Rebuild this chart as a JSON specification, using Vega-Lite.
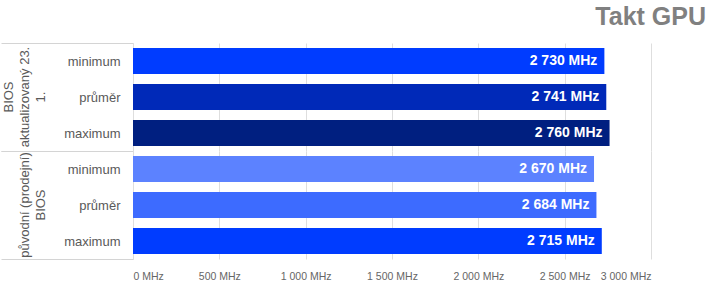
{
  "$schema": "https://vega.github.io/schema/vega-lite/v6.json",
  "padding": {"left": 0, "top": 5, "right": 5, "bottom": 3},
  "data": {
    "values": [
      {"skupina": "BIOS aktualizovaný 23. 1.", "metrika": "minimum", "mhz": 2730},
      {"skupina": "BIOS aktualizovaný 23. 1.", "metrika": "průměr", "mhz": 2741},
      {"skupina": "BIOS aktualizovaný 23. 1.", "metrika": "maximum", "mhz": 2760},
      {"skupina": "původní (prodejní) BIOS", "metrika": "minimum", "mhz": 2670},
      {"skupina": "původní (prodejní) BIOS", "metrika": "průměr", "mhz": 2684},
      {"skupina": "původní (prodejní) BIOS", "metrika": "maximum", "mhz": 2715}
    ]
  },
  "title": {
    "text": "Takt GPU",
    "anchor": "end",
    "fontSize": 25,
    "font": "Liberation Sans",
    "fontWeight": "bold",
    "color": "#808080",
    "offset": 7,
    "dx": 55
  },
  "facet": {
    "row": {
      "field": "skupina",
      "type": "nominal",
      "sort": ["BIOS aktualizovaný 23. 1.", "původní (prodejní) BIOS"],
      "header": {
        "title": null,
        "labelAngle": -90,
        "labelOrient": "left",
        "labelAlign": "center",
        "labelBaseline": "bottom",
        "labelExpr": "datum.value === 'BIOS aktualizovaný 23. 1.' ? ['BIOS', 'aktualizovaný 23.', '1.'] : ['původní (prodejní)', 'BIOS']",
        "labelFont": "Liberation Sans",
        "labelFontSize": 13,
        "labelColor": "#595959",
        "labelLineHeight": 16,
        "labelPadding": -60
      }
    }
  },
  "spacing": 0,
  "spec": {
    "width": 518,
    "height": 108,
    "encoding": {
      "y": {
        "field": "metrika",
        "type": "nominal",
        "sort": ["minimum", "průměr", "maximum"],
        "scale": {"paddingInner": 0, "paddingOuter": 0},
        "axis": {
          "title": null,
          "domainColor": "#d4d4d4",
          "tickBand": "extent",
          "tickSize": 132,
          "tickColor": "#d4d4d4",
          "tickOpacity": {"condition": {"test": "datum.value === 'minimum' || datum.value === 'průměr'", "value": 0}, "value": 1},
          "labelPadding": -119,
          "labelFont": "Liberation Sans",
          "labelFontSize": 13,
          "labelColor": "#595959"
        }
      },
      "x": {
        "field": "mhz",
        "type": "quantitative",
        "scale": {"domain": [0, 3000], "nice": false},
        "axis": {
          "title": null,
          "values": [0, 500, 1000, 1500, 2000, 2500, 3000],
          "labelExpr": "replace(format(datum.value, ','), ',', ' ') + ' MHz'",
          "labelOverlap": false,
          "grid": true,
          "gridColor": "#dedede",
          "ticks": false,
          "domain": false,
          "labelFont": "Liberation Sans",
          "labelFontSize": 10.5,
          "labelColor": "#666666",
          "labelPadding": 12
        }
      }
    },
    "layer": [
      {
        "mark": {"type": "bar", "height": {"band": 0.72}},
        "encoding": {
          "color": {
            "condition": [
              {"test": "datum.skupina === 'BIOS aktualizovaný 23. 1.' && datum.metrika === 'minimum'", "value": "#003cff"},
              {"test": "datum.skupina === 'BIOS aktualizovaný 23. 1.' && datum.metrika === 'průměr'", "value": "#0029b8"},
              {"test": "datum.skupina === 'BIOS aktualizovaný 23. 1.' && datum.metrika === 'maximum'", "value": "#001f80"},
              {"test": "datum.skupina === 'původní (prodejní) BIOS' && datum.metrika === 'minimum'", "value": "#5c82ff"},
              {"test": "datum.skupina === 'původní (prodejní) BIOS' && datum.metrika === 'průměr'", "value": "#3d6bff"}
            ],
            "value": "#003cff"
          }
        }
      },
      {
        "mark": {
          "type": "text",
          "align": "right",
          "baseline": "middle",
          "dx": -7,
          "font": "Liberation Sans",
          "fontWeight": "bold",
          "fontSize": 14,
          "color": "white",
          "text": {"expr": "replace(format(datum.mhz, ','), ',', ' ') + ' MHz'"}
        }
      }
    ]
  },
  "config": {
    "view": {"stroke": null},
    "font": "Liberation Sans"
  }
}
